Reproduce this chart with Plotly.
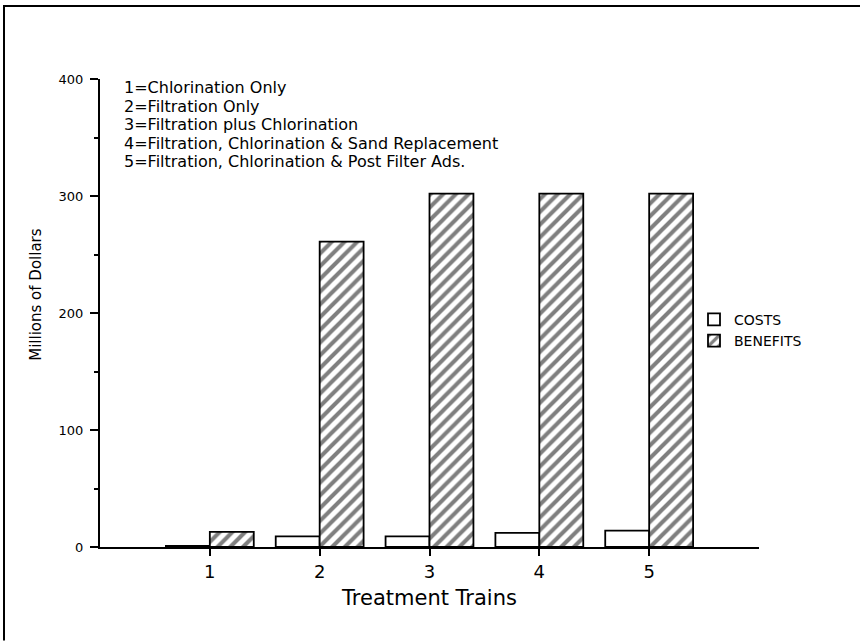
import plotly.graph_objects as go

categories = [1, 2, 3, 4, 5]
costs = [1, 9, 9, 12, 14]
benefits = [13, 261, 302, 302, 302]
y_ticks = [0, 100, 200, 300, 400]
key_lines = [
    "1=Chlorination Only",
    "2=Filtration Only",
    "3=Filtration plus Chlorination",
    "4=Filtration, Chlorination & Sand Replacement",
    "5=Filtration, Chlorination & Post Filter Ads.",
]

FONT = "DejaVu Sans"
W, H = 861, 642
L, R, T, B = 100, 102, 79, 94.5
pw, ph = W - L - R, H - T - B


def px_x(px):
    return (px - L) / pw


def px_y(py):
    return (H - B - py) / ph


fig = go.Figure()
fig.add_trace(go.Bar(
    x=categories, y=costs, name="COSTS",
    marker=dict(color="white", line=dict(color="black", width=1.8)),
))
fig.add_trace(go.Bar(
    x=categories, y=benefits, name="BENEFITS",
    marker=dict(color="white", line=dict(color="black", width=1.8),
                pattern=dict(shape="/", fgcolor="black", bgcolor="white",
                             size=9, solidity=0.45)),
))

first_line, line_gap = 88, 18.5
for i, txt in enumerate(key_lines):
    fig.add_annotation(
        text=txt, xref="paper", yref="paper",
        x=px_x(122), y=px_y(first_line + i * line_gap),
        xanchor="left", yanchor="middle", showarrow=False,
        font=dict(family=FONT, size=16, color="black"),
    )

# y-axis title as annotation (sits above the plot centre in the reference)
fig.add_annotation(
    text="Millions of Dollars", xref="paper", yref="paper",
    x=px_x(36), y=px_y(295), xanchor="center", yanchor="middle",
    textangle=-90, showarrow=False,
    font=dict(family=FONT, size=15, color="black"),
)

# scanned page frame (left and top edges)
fig.add_shape(type="path", xref="paper", yref="paper",
              path=f"M {px_x(4)} {px_y(641)} L {px_x(4)} {px_y(6)} L {px_x(W - 1)} {px_y(6)}",
              line=dict(color="black", width=2))

fig.update_layout(
    width=W, height=H,
    margin=dict(l=L, r=R, t=T, b=B),
    paper_bgcolor="white", plot_bgcolor="white",
    barmode="group", bargap=0.2, bargroupgap=0,
    font=dict(family=FONT, color="black"),
    showlegend=True,
    legend=dict(x=px_x(694), y=px_y(304), xanchor="left",
                yanchor="top", bgcolor="rgba(0,0,0,0)",
                font=dict(family=FONT, size=14, color="black"),
                tracegroupgap=0),
    xaxis=dict(
        range=[0, 6], tickvals=categories, ticktext=[str(c) for c in categories],
        showline=True, linecolor="black", linewidth=2,
        ticks="outside", ticklen=7, tickwidth=2, tickcolor="black",
        tickfont=dict(family=FONT, size=18),
        showgrid=False, zeroline=False,
        title=dict(text="Treatment Trains", font=dict(family=FONT, size=21), standoff=10),
    ),
    yaxis=dict(
        range=[0, 400], tickvals=y_ticks,
        showline=True, linecolor="black", linewidth=2,
        ticks="outside", ticklen=8, tickwidth=2, tickcolor="black",
        ticklabelstandoff=4,
        minor=dict(ticks="outside", ticklen=4, dtick=50, tick0=0,
                   tickcolor="black", tickwidth=1.5, showgrid=False),
        tickfont=dict(family=FONT, size=13),
        showgrid=False, zeroline=False,
    ),
)

# remove the browser's default 8px page margin so the figure sits at the window origin
fig.write_html("out.html",
               config={"displayModeBar": False},
               post_script="document.body.style.margin='0';document.body.style.padding='0';")
